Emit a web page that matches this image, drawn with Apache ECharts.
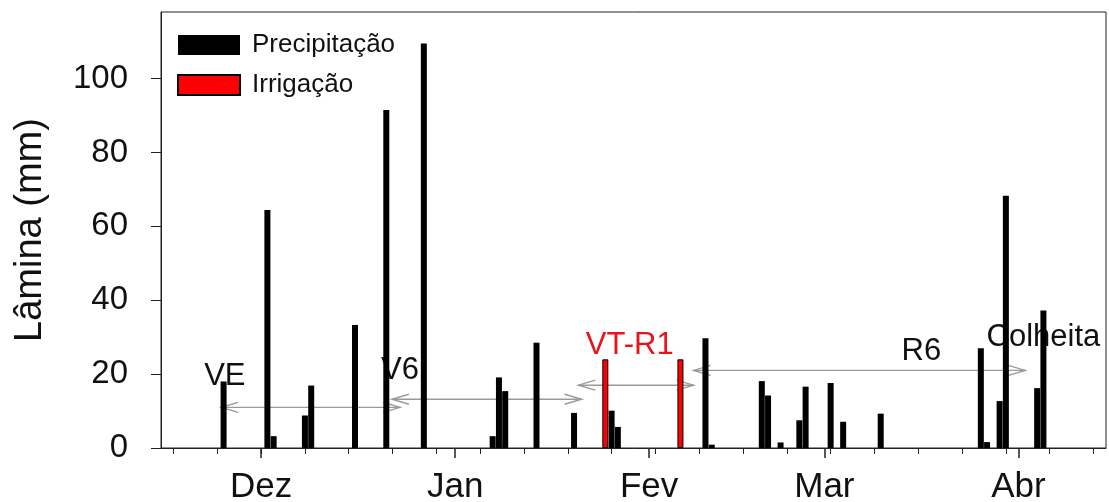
<!DOCTYPE html>
<html>
<head>
<meta charset="utf-8">
<script src="https://cdn.jsdelivr.net/npm/echarts@6/dist/echarts.min.js"></script>
<style>
html,body{margin:0;padding:0;background:#fff;}
#chart{width:1109px;height:502px;}
</style>
</head>
<body>
<div id="chart"></div>
<script>
// x values are days counted from 1 December (Dez = 0)
const precipDays = [-6, 1, 2, 7, 8, 15, 20, 26, 37, 38, 39, 44, 50, 56, 57, 71, 72, 80, 81, 83, 86, 87, 91, 93, 99, 115, 116, 118, 119, 124, 125];
const precipMm   = [18.0, 64.4, 3.2, 8.8, 16.9, 33.3, 91.5, 109.5, 3.2, 19.1, 15.4, 28.5, 9.5, 10.1, 5.7, 29.7, 0.9, 18.1, 14.2, 1.5, 7.5, 16.6, 17.6, 7.1, 9.3, 27.0, 1.6, 12.7, 68.3, 16.2, 37.2];
const irrigDays  = [55, 67];
const irrigMm    = [24.0, 24.0];

const monthTickDays = [0, 31, 62, 90, 121];
const monthLabels   = ['Dez', 'Jan', 'Fev', 'Mar', 'Abr'];
const weekTickDays  = [-14, -7, 0, 7, 14, 21, 28, 35, 42, 49, 56, 63, 70, 77, 84, 91, 98, 105, 112, 119, 126, 133];
const yTickValues   = [0, 20, 40, 60, 80, 100];

// phenological stages
const stageLabels = ['VE', 'V6', 'VT-R1', 'R6', 'Colheita'];
const stageLabelX = [-5.8, 22.2, 58.9, 105.5, 125.0];
const stageLabelY = [19.4, 21.1, 27.8, 26.1, 30.0];
const arrowStart  = [-6.4, 20.9, 50.7, 69.1];
const arrowEnd    = [22.2, 51.2, 69.1, 122.1];
const arrowY      = [11.0, 13.2, 17.0, 21.0];

const FONT = '"Liberation Sans", Arial, Helvetica, sans-serif';
const labelColors = { 'VT-R1': '#e8141a' };

const precipData = precipDays.map((d, i) => [d, precipMm[i]]);
const irrigData = irrigDays.map((d, i) => [d, irrigMm[i]]);
const arrowData = arrowStart.map((s, i) => [s, arrowY[i], arrowEnd[i]]);
const labelData = stageLabels.map((t, i) => ({ value: [stageLabelX[i], stageLabelY[i]], name: t }));

const chart = echarts.init(document.getElementById('chart'), null, { renderer: 'canvas' });

const option = {
  animation: false,
  backgroundColor: '#fff',
  textStyle: { fontFamily: FONT },
  grid: {
    left: 161, right: 3, top: 12, bottom: 54,
    outerBoundsMode: 'none', containLabel: false,
    show: true, borderColor: '#222', borderWidth: 1, backgroundColor: 'transparent'
  },
  legend: {
    orient: 'vertical',
    left: 177, top: 32,
    padding: 0,
    itemWidth: 62, itemHeight: 20, itemGap: 14,
    icon: 'rect',
    textStyle: { fontSize: 26, color: '#111', fontFamily: FONT, padding: [0, 0, 0, 7] },
    data: ['Precipitação', 'Irrigação']
  },
  xAxis: [
    {
      type: 'value', min: -16, max: 135,
      axisLine: { show: true, onZero: false, lineStyle: { color: '#222', width: 1 } },
      axisTick: { show: true, customValues: weekTickDays, length: 6, lineStyle: { color: '#222' } },
      axisLabel: {
        show: true, customValues: monthTickDays, margin: 22,
        fontSize: 35, color: '#111', fontFamily: FONT,
        formatter: function (v) { const i = monthTickDays.indexOf(v); return i >= 0 ? monthLabels[i] : ''; }
      },
      splitLine: { show: false }
    },
    {
      type: 'value', min: -16, max: 135, position: 'bottom',
      axisLine: { show: false, onZero: false },
      axisTick: { show: true, customValues: monthTickDays, length: 10, lineStyle: { color: '#222', width: 1.5 } },
      axisLabel: { show: false },
      splitLine: { show: false }
    }
  ],
  yAxis: {
    type: 'value', min: 0, max: 118,
    name: 'Lâmina (mm)', nameLocation: 'middle', nameGap: 111,
    nameTextStyle: { fontSize: 38, color: '#111', fontFamily: FONT },
    axisLine: { show: true, onZero: false, lineStyle: { color: '#222', width: 1 } },
    axisTick: { show: true, customValues: yTickValues, length: 10, lineStyle: { color: '#222' } },
    axisLabel: { show: true, customValues: yTickValues, margin: 33, fontSize: 33, color: '#111', fontFamily: FONT },
    splitLine: { show: false }
  },
  series: [
    {
      type: 'custom', name: 'arrows', silent: true, z: 1,
      xAxisIndex: 0, yAxisIndex: 0,
      data: arrowData,
      renderItem: function (params, api) {
        const p1 = api.coord([api.value(0), api.value(1)]);
        const p2 = api.coord([api.value(2), api.value(1)]);
        const hl = 17, hw = 5;
        const st = { stroke: '#9a9a9a', lineWidth: 1.4, fill: null };
        return {
          type: 'group',
          children: [
            { type: 'line', shape: { x1: p1[0], y1: p1[1], x2: p2[0], y2: p2[1] }, style: st },
            { type: 'polyline', shape: { points: [[p1[0] + hl, p1[1] - hw], [p1[0], p1[1]], [p1[0] + hl, p1[1] + hw]] }, style: st },
            { type: 'polyline', shape: { points: [[p2[0] - hl, p2[1] - hw], [p2[0], p2[1]], [p2[0] - hl, p2[1] + hw]] }, style: st }
          ]
        };
      }
    },
    {
      type: 'custom', name: 'stages', silent: true, z: 1,
      xAxisIndex: 0, yAxisIndex: 0,
      data: labelData,
      renderItem: function (params, api) {
        const p = api.coord([api.value(0), api.value(1)]);
        const t = stageLabels[params.dataIndex];
        return {
          type: 'text', x: p[0], y: p[1],
          style: {
            text: t, fill: labelColors[t] || '#111',
            fontSize: 31, fontFamily: FONT,
            align: 'center', verticalAlign: 'middle'
          }
        };
      }
    },
    {
      type: 'bar', name: 'Precipitação', z: 3,
      xAxisIndex: 0, yAxisIndex: 0,
      barWidth: 6, barGap: '-100%',
      itemStyle: { color: '#000', borderColor: '#000', borderWidth: 0 },
      data: precipData
    },
    {
      type: 'bar', name: 'Irrigação', z: 3,
      xAxisIndex: 0, yAxisIndex: 0,
      barWidth: 6, barGap: '-100%',
      itemStyle: { color: '#ff0000', borderColor: '#000', borderWidth: 1 },
      data: irrigData
    }
  ]
};

chart.setOption(option);
</script>
</body>
</html>
